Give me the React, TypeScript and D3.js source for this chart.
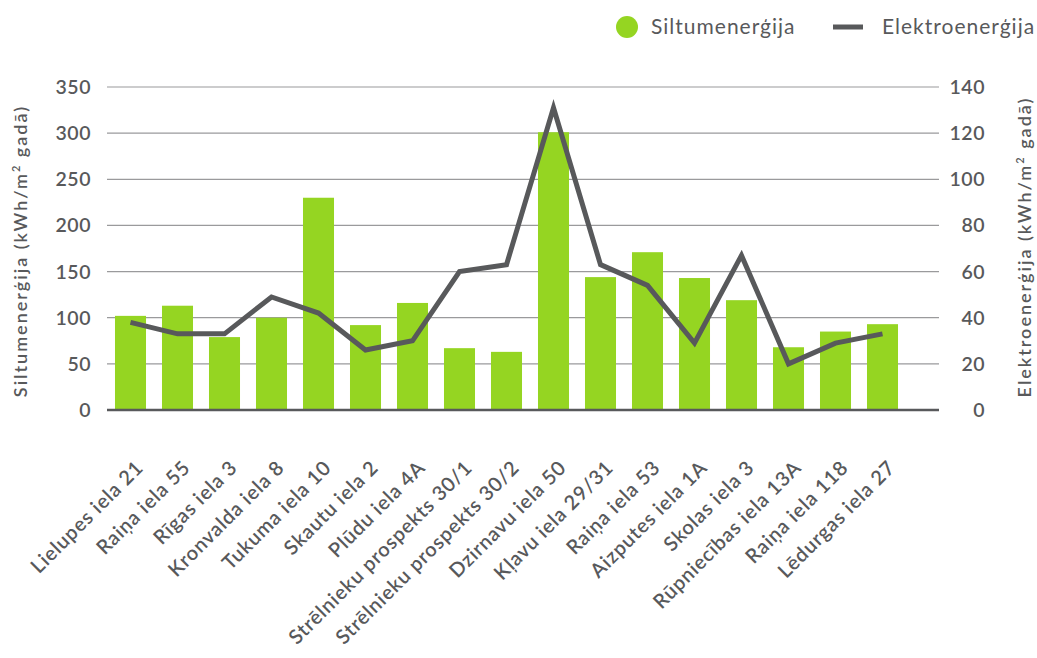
import React from "react";
import * as d3 from "d3";

// building names (x axis)
const buildings = [
  "Lielupes iela 21",
  "Raiņa iela 55",
  "Rīgas iela 3",
  "Kronvalda iela 8",
  "Tukuma iela 10",
  "Skautu iela 2",
  "Plūdu iela 4A",
  "Strēlnieku prospekts 30/1",
  "Strēlnieku prospekts 30/2",
  "Dzirnavu iela 50",
  "Kļavu iela 29/31",
  "Raiņa iela 53",
  "Aizputes iela 1A",
  "Skolas iela 3",
  "Rūpniecības iela 13A",
  "Raiņa iela 118",
  "Lēdurgas iela 27",
];

// kWh/m2 per year
const heat = [102, 113, 79, 100, 230, 92, 116, 67, 63, 301, 144, 171, 143, 119, 68, 85, 93];
const electricity = [38, 33, 33, 49, 42, 26, 30, 60, 63, 131, 63, 54, 29, 67, 20, 29, 33];

const leftTicks = [0, 50, 100, 150, 200, 250, 300, 350];
const rightTicks = [0, 20, 40, 60, 80, 100, 120, 140];

const W = 1037;
const H = 658;
const plot = { left: 107, right: 939, top: 87, bottom: 410 };
const step = 47;

const GREEN = "#95d522";
const DARK = "#58595b";
const FONT = "Lato, 'Open Sans', sans-serif";

export default function App() {
  const x = d3
    .scaleBand<string>()
    .domain(buildings)
    .range([plot.left, plot.left + step * buildings.length])
    .paddingInner(0.34)
    .paddingOuter(0.17);

  const yLeft = d3.scaleLinear().domain([0, 350]).range([plot.bottom, plot.top]);
  const yRight = d3.scaleLinear().domain([0, 140]).range([plot.bottom, plot.top]);

  const line = d3
    .line<number>()
    .x((_, i) => (x(buildings[i]) as number) + x.bandwidth() / 2)
    .y((d) => yRight(d));

  return (
    <svg
      width={W}
      height={H}
      style={{ position: "absolute", left: 0, top: 0, background: "#fff" }}
      fontFamily={FONT}
    >
      {/* grid */}
      {leftTicks.map((t) =>
        t === 0 ? null : (
          <line
            key={"g" + t}
            x1={plot.left}
            x2={plot.right}
            y1={yLeft(t)}
            y2={yLeft(t)}
            stroke="#9a9a9c"
            strokeWidth={1.2}
          />
        )
      )}

      {/* bars */}
      {heat.map((v, i) => (
        <rect
          key={"b" + i}
          x={x(buildings[i])}
          y={yLeft(v)}
          width={x.bandwidth()}
          height={plot.bottom - yLeft(v)}
          fill={GREEN}
        />
      ))}

      {/* baseline */}
      <line x1={plot.left} x2={plot.right} y1={plot.bottom} y2={plot.bottom} stroke={DARK} strokeWidth={2.5} />

      {/* electricity line */}
      <path d={line(electricity) || ""} fill="none" stroke={DARK} strokeWidth={5} strokeLinejoin="miter" />

      {/* left ticks */}
      {leftTicks.map((t) => (
        <text key={"l" + t} x={91} y={yLeft(t)} dy="0.36em" textAnchor="end" fontSize={19.5} fontWeight={600} letterSpacing={0.5} fill={DARK}>
          {t}
        </text>
      ))}

      {/* right ticks */}
      {rightTicks.map((t) => (
        <text key={"r" + t} x={985} y={yRight(t)} dy="0.36em" textAnchor="end" fontSize={19.5} fontWeight={600} letterSpacing={0.5} fill={DARK}>
          {t}
        </text>
      ))}

      {/* axis titles */}
      <text
        transform="translate(27,251) rotate(-90)"
        textAnchor="middle"
        fontSize={18}
        fontWeight={600}
        letterSpacing={2}
        fill={DARK}
      >
        Siltumenerģija (kWh/m<tspan dy="-7" fontSize={11}>2</tspan><tspan dy="7"> gadā)</tspan>
      </text>
      <text
        transform="translate(1031,247) rotate(-90)"
        textAnchor="middle"
        fontSize={18}
        fontWeight={600}
        letterSpacing={2}
        fill={DARK}
      >
        Elektroenerģija (kWh/m<tspan dy="-7" fontSize={11}>2</tspan><tspan dy="7"> gadā)</tspan>
      </text>

      {/* x labels */}
      {buildings.map((b) => {
        const cx = (x(b) as number) + x.bandwidth() / 2 + 14;
        return (
          <text
            key={"x" + b}
            transform={`translate(${cx},${469}) rotate(-45)`}
            textAnchor="end"
            fontSize={20}
            fontWeight={600}
            letterSpacing={0.8}
            fill={DARK}
          >
            {b}
          </text>
        );
      })}

      {/* legend */}
      <circle cx={627} cy={27} r={11} fill={GREEN} />
      <text x={651} y={27} dy="0.35em" fontSize={21} letterSpacing={1} fill={DARK}>
        Siltumenerģija
      </text>
      <line x1={833} x2={863} y1={27} y2={27} stroke={DARK} strokeWidth={5} />
      <text x={882} y={27} dy="0.35em" fontSize={21} letterSpacing={1} fill={DARK}>
        Elektroenerģija
      </text>
    </svg>
  );
}
